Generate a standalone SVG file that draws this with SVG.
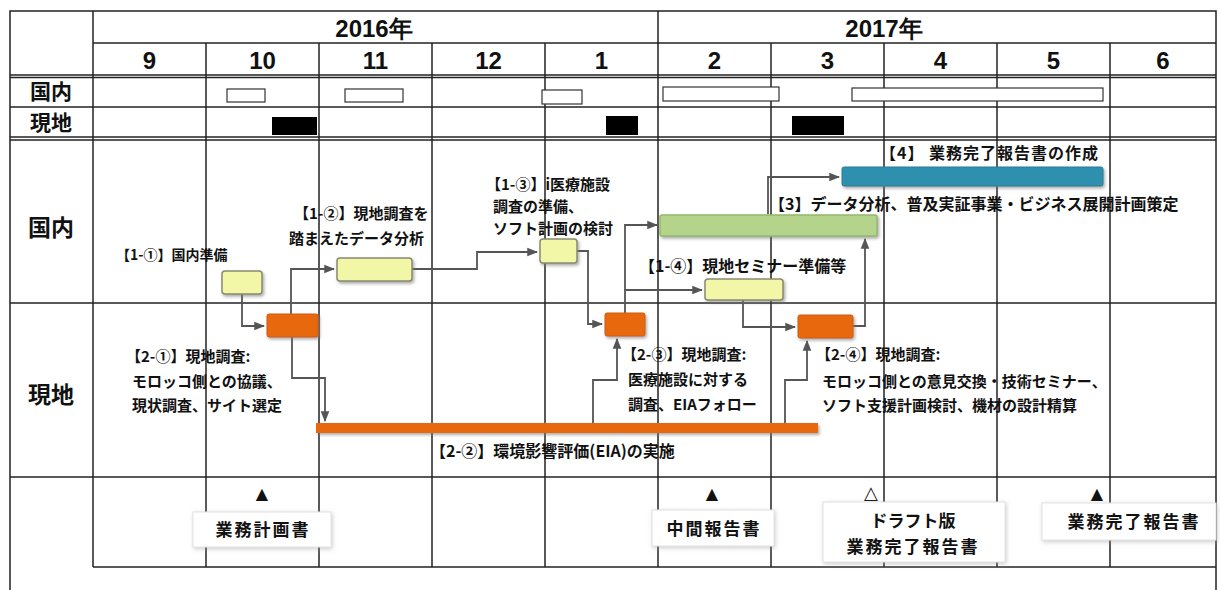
<svg xmlns="http://www.w3.org/2000/svg" width="1220" height="590" viewBox="0 0 1220 590">
<defs>
<style>
.grid{stroke:#222;stroke-width:1.5;fill:none}
.hdr{font-family:"Liberation Sans Narrow","Liberation Sans",sans-serif;font-weight:bold;font-size:24px;fill:#111;text-anchor:middle}
.lab{font-family:"Noto Sans CJK JP",sans-serif;font-weight:bold;fill:#111}
.big{font-size:23px;text-anchor:middle}
.sm{font-size:21px;text-anchor:middle}
.t14{font-size:14px}
.t15{font-size:15px}
.t16{font-size:16px}
.t17{font-size:17px;letter-spacing:2px}
.yel{fill:#f1f7a6;stroke:#8a8a70;stroke-width:1.5}
.org{fill:#e8670c;stroke:#d25a08;stroke-width:1}
.con{stroke:#555;stroke-width:1.8;fill:none}
.ms{fill:#fff;stroke:#e2e2e2;stroke-width:1}
.tri{font-family:"DejaVu Sans",sans-serif;font-size:16px;text-anchor:middle;fill:#111}
</style>
<filter id="sh" x="-20%" y="-30%" width="150%" height="170%">
<feDropShadow dx="1.5" dy="2" stdDeviation="1.5" flood-color="#777" flood-opacity="0.6"/>
</filter>
<filter id="sh2" x="-10%" y="-20%" width="120%" height="150%">
<feDropShadow dx="1" dy="1.5" stdDeviation="2" flood-color="#999" flood-opacity="0.5"/>
</filter>
<marker id="ar" viewBox="0 0 10 10" refX="9" refY="5" markerWidth="6" markerHeight="6" orient="auto">
<path d="M0,1 L10,5 L0,9 z" fill="#555"/>
</marker>
</defs>
<rect width="1220" height="590" fill="#fff"/>

<g id="grid">
<rect class="grid" x="10" y="11" width="1206" height="600"/>
<line class="grid" x1="93" y1="43" x2="1216" y2="43"/>
<line class="grid" x1="10" y1="75" x2="1216" y2="75"/>
<line class="grid" x1="10" y1="77.5" x2="1216" y2="77.5"/>
<line class="grid" x1="10" y1="107" x2="1216" y2="107"/>
<line class="grid" x1="10" y1="137" x2="1216" y2="137"/>
<line class="grid" x1="10" y1="140" x2="1216" y2="140"/>
<line class="grid" x1="10" y1="303" x2="1216" y2="303"/>
<line class="grid" x1="10" y1="477" x2="1216" y2="477" stroke-width="2"/>
<line class="grid" x1="93" y1="567" x2="1216" y2="567" stroke-width="2"/>
<line class="grid" x1="93" y1="11" x2="93" y2="567"/>
<line class="grid" x1="658" y1="11" x2="658" y2="567"/>
<line class="grid" x1="206" y1="43" x2="206" y2="567"/>
<line class="grid" x1="319" y1="43" x2="319" y2="567"/>
<line class="grid" x1="432" y1="43" x2="432" y2="567"/>
<line class="grid" x1="545" y1="43" x2="545" y2="567"/>
<line class="grid" x1="771" y1="43" x2="771" y2="567"/>
<line class="grid" x1="884" y1="43" x2="884" y2="567"/>
<line class="grid" x1="997" y1="43" x2="997" y2="567"/>
<line class="grid" x1="1110" y1="43" x2="1110" y2="567"/>
</g>

<g id="header">
<text class="hdr" x="374" y="37">2016年</text>
<text class="hdr" x="884" y="37">2017年</text>
<text class="hdr" x="149.5" y="69">9</text>
<text class="hdr" x="262.5" y="69">10</text>
<text class="hdr" x="375.5" y="69">11</text>
<text class="hdr" x="488.5" y="69">12</text>
<text class="hdr" x="601.5" y="69">1</text>
<text class="hdr" x="714.5" y="69">2</text>
<text class="hdr" x="827.5" y="69">3</text>
<text class="hdr" x="940.5" y="69">4</text>
<text class="hdr" x="1053.5" y="69">5</text>
<text class="hdr" x="1163" y="69">6</text>
<text class="lab sm" x="51" y="99">国内</text>
<text class="lab sm" x="51" y="130">現地</text>
<text class="lab big" x="51" y="236">国内</text>
<text class="lab big" x="51" y="403">現地</text>
</g>

<g id="schedule">
<rect x="227" y="89" width="38" height="13" fill="#fff" stroke="#333" stroke-width="1.2"/>
<rect x="345" y="89" width="58" height="13" fill="#fff" stroke="#333" stroke-width="1.2"/>
<rect x="542" y="90" width="40" height="14" fill="#fff" stroke="#333" stroke-width="1.2"/>
<rect x="663" y="87" width="116" height="14" fill="#fff" stroke="#333" stroke-width="1.2"/>
<rect x="852" y="88" width="251" height="13" fill="#fff" stroke="#333" stroke-width="1.2"/>
<rect x="272" y="117" width="45" height="18" fill="#000"/>
<rect x="606" y="116" width="32" height="19" fill="#000"/>
<rect x="792" y="116" width="52" height="19" fill="#000"/>
</g>

<g id="connectors">
<path class="con" d="M242,294 V326 H264" marker-end="url(#ar)"/>
<path class="con" d="M291,314 V269 H334" marker-end="url(#ar)"/>
<path class="con" d="M412,269 H477 V252 H537" marker-end="url(#ar)"/>
<path class="con" d="M577,251 H588 V324 H602" marker-end="url(#ar)"/>
<path class="con" d="M625,313 V225 H657" marker-end="url(#ar)"/>
<path class="con" d="M625,290 H702" marker-end="url(#ar)"/>
<path class="con" d="M768,214 V177 H839" marker-end="url(#ar)"/>
<path class="con" d="M743,300 V327 H795" marker-end="url(#ar)"/>
<path class="con" d="M853,326 H865 V239" marker-end="url(#ar)"/>
<path class="con" d="M292,337 V378 H325 V421" marker-end="url(#ar)"/>
<path class="con" d="M593,423 V380 H617 V339" marker-end="url(#ar)"/>
<path class="con" d="M785,423 V380 H807 V341" marker-end="url(#ar)"/>
</g>

<g id="n11">
<rect class="yel" x="222" y="271" width="40" height="23" rx="3" filter="url(#sh)"/>
<text class="lab t14" x="116" y="260">【1-①】国内準備</text>
</g>
<g id="n12">
<rect class="yel" x="337" y="258" width="75" height="23" rx="3" filter="url(#sh)"/>
<text class="lab t15" x="294" y="219">【1-②】現地調査を</text>
<text class="lab t15" x="289" y="244">踏まえたデータ分析</text>
</g>
<g id="n13">
<rect class="yel" x="540" y="239" width="37" height="24" rx="3" filter="url(#sh)"/>
<text class="lab t15" x="486" y="190">【1-③】i医療施設</text>
<text class="lab t15" x="493" y="212">調査の準備、</text>
<text class="lab t15" x="493" y="234">ソフト計画の検討</text>
</g>
<g id="n14">
<rect class="yel" x="705" y="279" width="78" height="21" rx="3" filter="url(#sh)"/>
<text class="lab t16" x="639" y="272">【1-④】現地セミナー準備等</text>
</g>
<g id="n3">
<rect x="660" y="215" width="217" height="21" rx="2" fill="#b4d48c" stroke="#94b86c" stroke-width="1.5" filter="url(#sh)"/>
<text class="lab t16" x="769" y="210">【3】データ分析、普及実証事業・ビジネス展開計画策定</text>
</g>
<g id="n4">
<rect x="842" y="167" width="261" height="19" rx="2" fill="#2f8fae" stroke="#2a7f9a" stroke-width="1" filter="url(#sh)"/>
<text class="lab t16" x="880" y="159" style="letter-spacing:1px">【4】 業務完了報告書の作成</text>
</g>
<g id="n21">
<rect class="org" x="267" y="314" width="51" height="23" rx="2" filter="url(#sh)"/>
<text class="lab t15" x="126" y="362">【2-①】現地調査:</text>
<text class="lab t15" x="132" y="387">モロッコ側との協議、</text>
<text class="lab t15" x="132" y="411">現状調査、サイト選定</text>
</g>
<g id="n22">
<rect x="316" y="423" width="502" height="10" fill="#e8670c" filter="url(#sh)"/>
<text class="lab t16" x="430" y="457">【2-②】環境影響評価(EIA)の実施</text>
</g>
<g id="n23">
<rect class="org" x="605" y="313" width="40" height="23" rx="2" filter="url(#sh)"/>
<text class="lab t15" x="622" y="360">【2-③】現地調査:</text>
<text class="lab t15" x="628" y="385">医療施設に対する</text>
<text class="lab t15" x="628" y="410">調査、EIAフォロー</text>
</g>
<g id="n24">
<rect class="org" x="798" y="315" width="55" height="23" rx="2" filter="url(#sh)"/>
<text class="lab t15" x="816" y="360">【2-④】現地調査:</text>
<text class="lab t15" x="822" y="387">モロッコ側との意見交換・技術セミナー、</text>
<text class="lab t15" x="822" y="411">ソフト支援計画検討、機材の設計精算</text>
</g>

<g id="m1">
<text class="tri" x="262" y="499">▲</text>
<rect class="ms" x="193" y="512" width="138" height="35" filter="url(#sh2)"/>
<text class="lab t17" x="263" y="536" text-anchor="middle">業務計画書</text>
</g>
<g id="m2">
<text class="tri" x="712" y="499">▲</text>
<rect class="ms" x="652" y="510" width="122" height="36" filter="url(#sh2)"/>
<text class="lab t17" x="714" y="535" text-anchor="middle">中間報告書</text>
</g>
<g id="m3">
<text class="tri" x="871" y="499" style="font-size:18px;font-weight:bold">△</text>
<rect class="ms" x="823" y="502" width="182" height="60" filter="url(#sh2)"/>
<text class="lab t17" x="913" y="527" text-anchor="middle" style="letter-spacing:0">ドラフト版</text>
<text class="lab t17" x="913" y="553" text-anchor="middle">業務完了報告書</text>
</g>
<g id="m4">
<text class="tri" x="1097" y="499">▲</text>
<rect class="ms" x="1042" y="503" width="174" height="37" filter="url(#sh2)"/>
<text class="lab t17" x="1134" y="528" text-anchor="middle">業務完了報告書</text>
</g>
</svg>
